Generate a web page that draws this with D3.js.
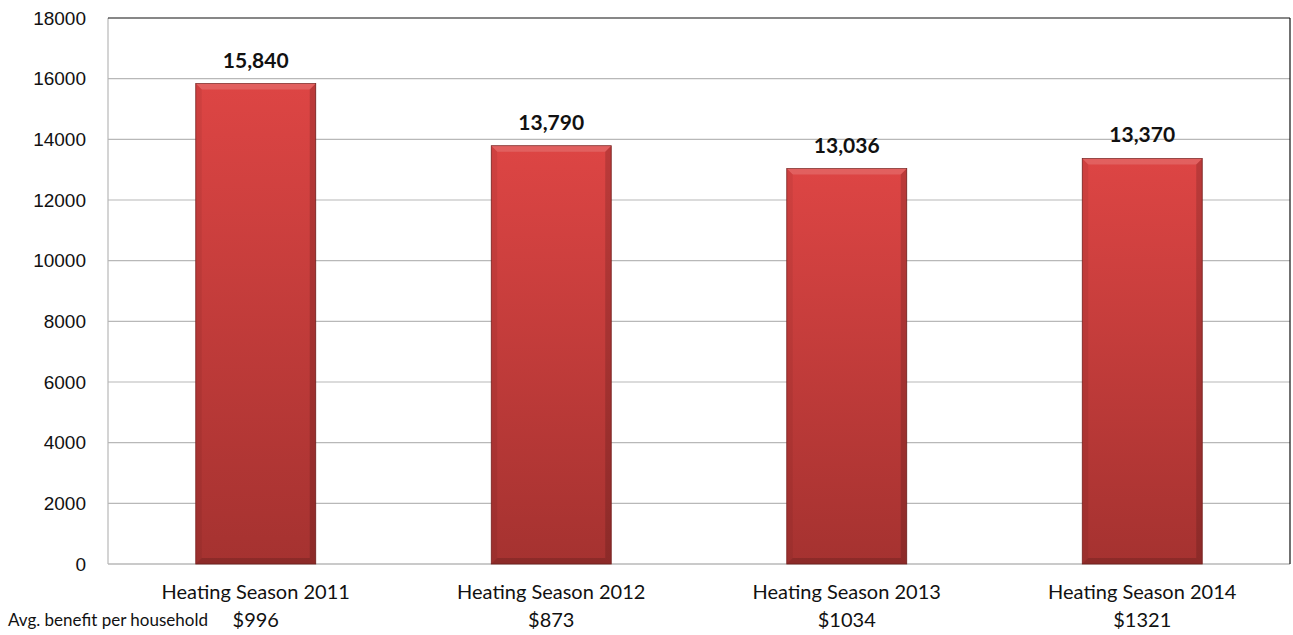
<!DOCTYPE html>
<html>
<head>
<meta charset="utf-8">
<script src="https://cdn.jsdelivr.net/npm/d3@7"></script>
<style>
  body { margin: 0; background: #fff; }
</style>
</head>
<body>
<div id="chart"></div>
<script>
// 数据
const categories = ["Heating Season 2011", "Heating Season 2012", "Heating Season 2013", "Heating Season 2014"];
const households = [15840, 13790, 13036, 13370];
const benefits = ["$996", "$873", "$1034", "$1321"];
const yTicks = [0, 2000, 4000, 6000, 8000, 10000, 12000, 14000, 16000, 18000];

const W = 1293, H = 635;
const margin = {top: 18, right: 3, bottom: 71, left: 108};
const width = W - margin.left - margin.right,
      height = H - margin.top - margin.bottom;

const svg = d3.select("#chart").append("svg")
    .attr("width", W).attr("height", H);

// 渐变
const defs = svg.append("defs");
const grad = defs.append("linearGradient")
    .attr("id", "barGrad").attr("x1", 0).attr("y1", 0).attr("x2", 0).attr("y2", 1);
grad.append("stop").attr("offset", "0%").attr("stop-color", "#dd4544");
grad.append("stop").attr("offset", "100%").attr("stop-color", "#a53230");

const g = svg.append("g").attr("transform", `translate(${margin.left},${margin.top})`);

const x = d3.scaleBand().domain(categories).range([0, width]).paddingInner(0.594).paddingOuter(0.297);
const y = d3.scaleLinear().domain([0, 18000]).range([height, 0]);

// 网格线
g.selectAll(".grid").data(yTicks.filter(d => d > 0 && d < 18000)).enter()
    .append("line")
    .attr("x1", 0).attr("x2", width)
    .attr("y1", d => y(d)).attr("y2", d => y(d))
    .attr("stroke", "#b8b8b8").attr("stroke-width", 1.2);

// 边框
g.append("line").attr("x1", 0).attr("x2", 0).attr("y1", 0).attr("y2", height)
    .attr("stroke", "#b8b8b8").attr("stroke-width", 1.2);
g.append("line").attr("x1", 0).attr("x2", width).attr("y1", height).attr("y2", height)
    .attr("stroke", "#b8b8b8").attr("stroke-width", 1.5);
g.append("line").attr("x1", 0).attr("x2", width).attr("y1", 0).attr("y2", 0)
    .attr("stroke", "#111").attr("stroke-width", 1.2);
g.append("line").attr("x1", width).attr("x2", width).attr("y1", 0).attr("y2", height)
    .attr("stroke", "#111").attr("stroke-width", 1.2);

// Y轴
const yAxis = g.append("g")
    .call(d3.axisLeft(y).tickValues(yTicks).tickFormat(d3.format("d")).tickSize(0).tickPadding(22));
yAxis.select(".domain").remove();
yAxis.selectAll("text")
    .style("font-family", "'Liberation Sans', Arial, sans-serif")
    .style("font-size", "19px").attr("fill", "#111");

// 柱子
const bars = g.selectAll(".bar").data(households).enter().append("g")
    .attr("class", "bar")
    .attr("transform", (d, i) => `translate(${x(categories[i])},${y(d)})`);

const bev = 6;
bars.append("rect")
    .attr("width", x.bandwidth())
    .attr("height", d => height - y(d))
    .attr("fill", "url(#barGrad)")
    .attr("stroke", "#7a2321").attr("stroke-width", 0.8);
// 斜面效果
bars.append("path")
    .attr("d", d => {
        const w = x.bandwidth();
        return `M0,0 L${w},0 L${w - bev},${bev} L${bev},${bev} Z`;
    })
    .attr("fill", "#ffffff").attr("opacity", 0.15);
bars.append("path")
    .attr("d", d => {
        const w = x.bandwidth(), h = height - y(d);
        return `M${w},0 L${w},${h} L${w - bev},${h - bev} L${w - bev},${bev} Z`;
    })
    .attr("fill", "#000").attr("opacity", 0.15);
bars.append("path")
    .attr("d", d => {
        const w = x.bandwidth(), h = height - y(d);
        return `M0,0 L${bev},${bev} L${bev},${h - bev} L0,${h} Z`;
    })
    .attr("fill", "#000").attr("opacity", 0.06);
bars.append("path")
    .attr("d", d => {
        const w = x.bandwidth(), h = height - y(d);
        return `M0,${h} L${bev},${h - bev} L${w - bev},${h - bev} L${w},${h} Z`;
    })
    .attr("fill", "#000").attr("opacity", 0.15);

// 数值标签
g.selectAll(".val").data(households).enter().append("text")
    .attr("x", (d, i) => x(categories[i]) + x.bandwidth() / 2)
    .attr("y", d => y(d) - 16)
    .attr("text-anchor", "middle")
    .style("font-family", "Lato, 'Open Sans', sans-serif")
    .style("font-weight", "bold").style("font-size", "21px")
    .attr("fill", "#111")
    .text(d => d3.format(",")(d));

// 类别标签
g.selectAll(".cat").data(categories).enter().append("text")
    .attr("x", d => x(d) + x.bandwidth() / 2)
    .attr("y", height + 35)
    .attr("text-anchor", "middle")
    .style("font-family", "Lato, 'Open Sans', sans-serif")
    .style("font-size", "20px").attr("fill", "#111")
    .text(d => d);

g.selectAll(".ben").data(benefits).enter().append("text")
    .attr("x", (d, i) => x(categories[i]) + x.bandwidth() / 2)
    .attr("y", height + 63)
    .attr("text-anchor", "middle")
    .style("font-family", "Lato, 'Open Sans', sans-serif")
    .style("font-size", "20px").attr("fill", "#111")
    .text(d => d);

svg.append("text")
    .attr("x", 8).attr("y", H - 9)
    .style("font-family", "Lato, 'Open Sans', sans-serif")
    .style("font-size", "17px").attr("fill", "#111")
    .text("Avg. benefit per household");
</script>
</body>
</html>
